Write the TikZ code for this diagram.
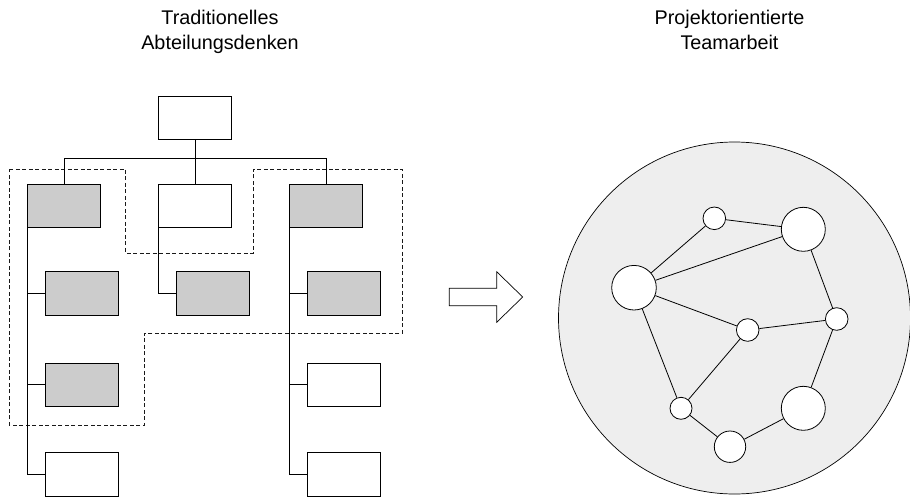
\documentclass[tikz,border=0pt]{standalone}
\usepackage{fontspec}
\setmainfont{Liberation Sans}
\begin{document}
\begin{tikzpicture}[x=1pt,y=-1pt,
  title/.style={anchor=base,inner sep=0pt,font=\fontsize{19.8}{24}\selectfont},
  unit/.style={draw=black,line width=0.8pt,fill=white,minimum width=73pt,minimum height=43.5pt,inner sep=0pt},
  grayunit/.style={unit,fill=boxgray},
  link/.style={draw=black,line width=0.8pt},
  team/.style={draw=black!90,line width=0.6pt,dash pattern=on 4pt off 2.5pt},
  member/.style={circle,draw=black,line width=0.8pt,fill=white,inner sep=0pt,minimum size=#1}]
\definecolor{boxgray}{HTML}{CCCCCC}
\definecolor{poolgray}{HTML}{EEEEEE}
\useasboundingbox (0,0) rectangle (910,498);

% headings
\node[title] (t1a) at (220,24.5) {Traditionelles};
\node[title] (t1b) at (220,49) {Abteilungsdenken};
\node[title] (t2a) at (729.5,24.5) {Projektorientierte};
\node[title] (t2b) at (729.5,49) {Teamarbeit};

% project team spanning several departments
\draw[team] (9.3,169.3) -- (125.7,169.3) -- (125.7,253.3) -- (253.3,253.3)
  -- (253.3,169.3) -- (402.3,169.3) -- (402.3,333.3) -- (144.3,333.3)
  -- (144.3,425) -- (9.3,425) -- cycle;

% organisation chart
\node[unit] (top) at (195,118) {};
\node[grayunit] (da) at (64.2,205.7) {};
\node[unit]     (db) at (195,205.7) {};
\node[grayunit] (dc) at (326,205.7) {};
\node[grayunit] (a2) at (82.3,293.5) {};
\node[grayunit] (b2) at (213.3,293.5) {};
\node[grayunit] (c2) at (344,293.5) {};
\node[grayunit] (a3) at (82.3,384.8) {};
\node[unit]     (c3) at (344,384.8) {};
\node[unit]     (a4) at (82.3,474.5) {};
\node[unit]     (c4) at (344,474.5) {};

\coordinate (bus) at (195,158.3);
\draw[link] (top.south) -- (bus);
\draw[link] (da.north) |- (bus) -| (dc.north);
\draw[link] (bus) -- (db.north);

\draw[link] (da.south west) |- (a4.west);
\draw[link] (a2.west) -- (a2.west -| da.south west);
\draw[link] (a3.west) -- (a3.west -| da.south west);
\draw[link] (db.south west) |- (b2.west);
\draw[link] (dc.south west) |- (c4.west);
\draw[link] (c2.west) -- (c2.west -| dc.south west);
\draw[link] (c3.west) -- (c3.west -| dc.south west);

% transition arrow
\draw[line width=0.7pt,fill=white] (449.3,288.3) -- (496.7,288.3) -- (496.7,271.7)
  -- (522.7,297) -- (496.7,322.3) -- (496.7,305.7) -- (449.3,305.7) -- cycle;

% team network
\node[circle,draw=black,line width=0.7pt,fill=poolgray,minimum size=352pt,inner sep=0pt] (pool) at (734.5,318) {};
\node[member=22.6pt] (n1) at (714.3,218.3) {};
\node[member=44pt]   (n2) at (803.3,229.3) {};
\node[member=44.6pt] (n3) at (634,287.7) {};
\node[member=22.6pt] (n4) at (747.7,330) {};
\node[member=22.6pt] (n5) at (836.7,319) {};
\node[member=22pt]   (n6) at (681,408.3) {};
\node[member=31.4pt] (n7) at (730,446.7) {};
\node[member=44pt]   (n8) at (803.3,408.3) {};

\draw[link] (n1) -- (n2);
\draw[link] (n1) -- (n3);
\draw[link] (n3) -- (n2);
\draw[link] (n2) -- (n5);
\draw[link] (n3) -- (n4);
\draw[link] (n4) -- (n5);
\draw[link] (n3) -- (n6);
\draw[link] (n6) -- (n4);
\draw[link] (n6) -- (n7);
\draw[link] (n7) -- (n8);
\draw[link] (n8) -- (n5);
\end{tikzpicture}
\end{document}
